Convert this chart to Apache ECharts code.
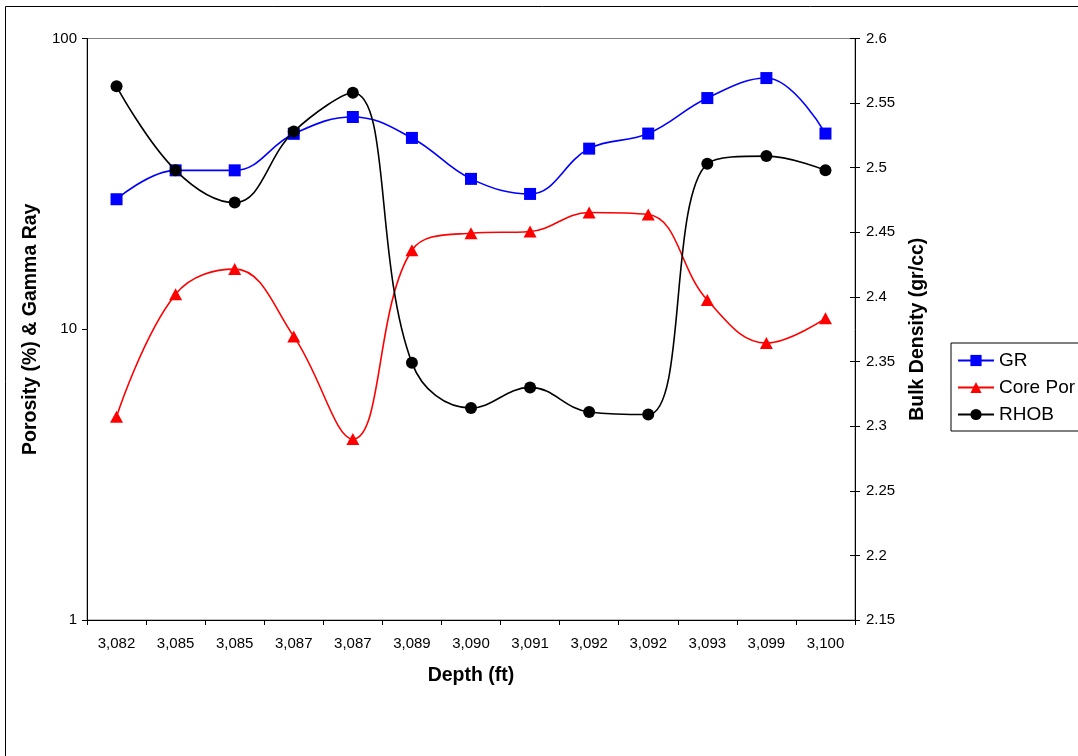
<!DOCTYPE html>
<html>
<head>
<meta charset="utf-8">
<script src="https://cdn.jsdelivr.net/npm/echarts@6/dist/echarts.min.js"></script>
<style>
  html, body { margin: 0; padding: 0; background: #fff; }
  #chart { width: 1078px; height: 756px; }
</style>
</head>
<body>
<div id="chart"></div>
<script>
// Depth sample labels along the bottom axis (ft)
const depthLabels = ['3,082', '3,085', '3,085', '3,087', '3,087', '3,089', '3,090',
                     '3,091', '3,092', '3,092', '3,093', '3,099', '3,100'];

// Gamma ray (API) – left log axis
const grValues = [28.0, 35.2, 35.2, 47.0, 53.7, 45.5, 32.9, 29.2, 41.8, 47.1, 62.4, 73.1, 47.1];

// Core porosity (%) – left log axis
const corePorValues = [5.0, 13.2, 16.1, 9.45, 4.19, 18.7, 21.4, 21.7, 25.2, 24.8, 12.6, 8.97, 10.9];

// Bulk density (gr/cc) – right axis
const rhobValues = [2.563, 2.498, 2.473, 2.528, 2.558, 2.349, 2.314, 2.330, 2.311, 2.309, 2.503, 2.509, 2.498];

// Axis ranges
const leftMin = 1, leftMax = 100;
const rightMin = 2.15, rightMax = 2.6, rightStep = 0.05;

const FONT = '"Liberation Sans", Arial, Helvetica, sans-serif';
const SMOOTH = 0.4;

const chart = echarts.init(document.getElementById('chart'), null, { renderer: 'canvas' });

const tickLabelStyle = { color: '#000', fontFamily: FONT, fontSize: 15 };
const titleStyle = { color: '#000', fontFamily: FONT, fontSize: 19.5, fontWeight: 'bold' };

chart.setOption({
  backgroundColor: '#fff',
  animation: false,
  graphic: [{
    type: 'rect',
    shape: { x: 5.5, y: 6.5, width: 1100, height: 800 },
    style: { fill: 'none', stroke: '#000', lineWidth: 1 },
    z: -10,
    silent: true
  }],
  grid: {
    left: 87, right: 223, top: 38.5, bottom: 136,
    show: true, borderColor: '#808080', borderWidth: 1, backgroundColor: 'transparent'
  },
  legend: {
    orient: 'vertical',
    left: 951, top: 343,
    padding: [8, 40, 7, 6],
    itemGap: 8,
    itemWidth: 36, itemHeight: 14,
    backgroundColor: '#fff',
    borderColor: '#000', borderWidth: 1,
    textStyle: { color: '#000', fontFamily: FONT, fontSize: 19 },
    data: ['GR', 'Core Por', 'RHOB']
  },
  xAxis: {
    type: 'category',
    data: depthLabels,
    boundaryGap: true,
    name: 'Depth (ft)',
    nameLocation: 'middle',
    nameGap: 46,
    nameTextStyle: titleStyle,
    axisLine: { lineStyle: { color: '#000', width: 1 } },
    axisTick: { show: true, alignWithLabel: false, length: 5, lineStyle: { color: '#000' } },
    axisLabel: Object.assign({ margin: 16, interval: 0 }, tickLabelStyle),
    splitLine: { show: false }
  },
  yAxis: [
    {
      type: 'log',
      logBase: 10,
      min: leftMin, max: leftMax,
      position: 'left',
      name: 'Porosity (%) & Gamma Ray',
      nameLocation: 'middle',
      nameRotate: 90,
      nameGap: 45,
      nameTextStyle: titleStyle,
      axisLine: { show: true, lineStyle: { color: '#000', width: 1 } },
      axisTick: { show: true, length: 5, lineStyle: { color: '#000' } },
      axisLabel: Object.assign({ margin: 10 }, tickLabelStyle),
      splitLine: { show: false },
      minorTick: { show: false }
    },
    {
      type: 'value',
      min: rightMin, max: rightMax, interval: rightStep,
      position: 'right',
      name: 'Bulk Density (gr/cc)',
      nameLocation: 'middle',
      nameRotate: 90,
      nameGap: 53,
      nameTextStyle: titleStyle,
      axisLine: { show: true, lineStyle: { color: '#000', width: 1 } },
      axisTick: { show: true, length: 5, lineStyle: { color: '#000' } },
      axisLabel: Object.assign({
        margin: 11,
        formatter: v => String(+v.toFixed(2))
      }, tickLabelStyle),
      splitLine: { show: false }
    },
    {
      // inner half of the cross tick marks on the density axis
      type: 'value',
      min: rightMin, max: rightMax, interval: rightStep,
      position: 'right',
      axisLine: { show: false },
      axisTick: { show: true, inside: true, length: 5, lineStyle: { color: '#000' } },
      axisLabel: { show: false },
      splitLine: { show: false }
    }
  ],
  series: [
    {
      name: 'GR',
      type: 'line',
      yAxisIndex: 0,
      data: grValues,
      smooth: SMOOTH,
      symbol: 'rect',
      symbolSize: 12,
      color: '#0000ff',
      lineStyle: { color: '#0000ff', width: 1.6 },
      itemStyle: { color: '#0000ff' },
      z: 3
    },
    {
      name: 'Core Por',
      type: 'line',
      yAxisIndex: 0,
      data: corePorValues,
      smooth: SMOOTH,
      symbol: 'triangle',
      symbolSize: [13, 12],
      color: '#ff0000',
      lineStyle: { color: '#ff0000', width: 1.6 },
      itemStyle: { color: '#ff0000' },
      z: 4
    },
    {
      name: 'RHOB',
      type: 'line',
      yAxisIndex: 1,
      data: rhobValues,
      smooth: SMOOTH,
      symbol: 'circle',
      symbolSize: 12,
      color: '#000',
      lineStyle: { color: '#000', width: 1.6 },
      itemStyle: { color: '#000' },
      z: 5
    }
  ]
});
</script>
</body>
</html>
